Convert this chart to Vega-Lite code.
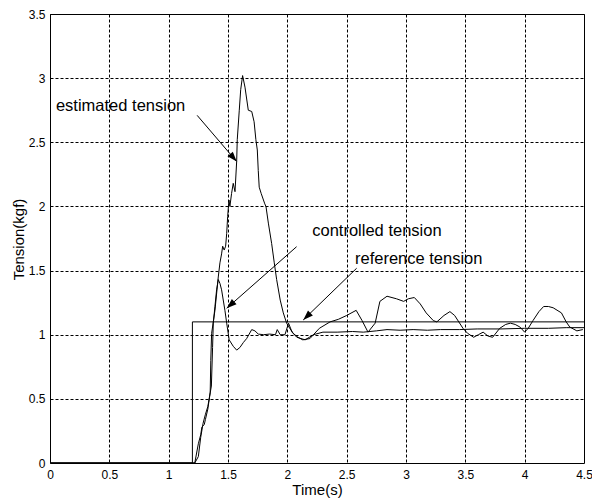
{
  "$schema": "https://vega.github.io/schema/vega-lite/v6.json",
  "width": 534,
  "height": 449,
  "autosize": "none",
  "padding": {"left": 50, "top": 14, "right": 8, "bottom": 35},
  "background": "white",
  "config": {
    "view": {"stroke": "black", "strokeWidth": 1},
    "axis": {
      "labelFont": "Liberation Sans", "labelFontSize": 12, "labelColor": "black",
      "titleFont": "Liberation Sans", "titleFontSize": 15, "titleFontWeight": "normal", "titleColor": "black",
      "grid": true, "gridColor": "black", "gridDash": [3, 2], "gridOpacity": 1, "gridWidth": 1,
      "ticks": false, "domain": false, "labelFlush": false
    }
  },
  "datasets": {
    "curves": [
      {"s": "reference", "t": 0, "v": 0}, {"s": "reference", "t": 1.2, "v": 0}, {"s": "reference", "t": 1.2, "v": 1.1}, {"s": "reference", "t": 4.5, "v": 1.1},
      {"s": "controlled", "t": 0, "v": 0}, {"s": "controlled", "t": 1.22, "v": 0}, {"s": "controlled", "t": 1.25, "v": 0.05}, {"s": "controlled", "t": 1.27, "v": 0.2}, {"s": "controlled", "t": 1.29, "v": 0.31}, {"s": "controlled", "t": 1.31, "v": 0.38}, {"s": "controlled", "t": 1.33, "v": 0.44}, {"s": "controlled", "t": 1.36, "v": 0.6}, {"s": "controlled", "t": 1.37, "v": 0.9}, {"s": "controlled", "t": 1.376, "v": 1.09}, {"s": "controlled", "t": 1.39, "v": 1.22}, {"s": "controlled", "t": 1.404, "v": 1.35}, {"s": "controlled", "t": 1.418, "v": 1.43}, {"s": "controlled", "t": 1.432, "v": 1.4}, {"s": "controlled", "t": 1.446, "v": 1.35}, {"s": "controlled", "t": 1.474, "v": 1.19}, {"s": "controlled", "t": 1.489, "v": 1.09}, {"s": "controlled", "t": 1.51, "v": 0.96}, {"s": "controlled", "t": 1.544, "v": 0.91}, {"s": "controlled", "t": 1.573, "v": 0.88}, {"s": "controlled", "t": 1.6, "v": 0.9}, {"s": "controlled", "t": 1.63, "v": 0.94}, {"s": "controlled", "t": 1.657, "v": 0.97}, {"s": "controlled", "t": 1.7, "v": 1.04}, {"s": "controlled", "t": 1.727, "v": 1.03}, {"s": "controlled", "t": 1.755, "v": 1.005}, {"s": "controlled", "t": 1.8, "v": 1.0}, {"s": "controlled", "t": 1.85, "v": 1.005}, {"s": "controlled", "t": 1.9, "v": 1.0}, {"s": "controlled", "t": 1.915, "v": 1.04}, {"s": "controlled", "t": 1.94, "v": 1.0}, {"s": "controlled", "t": 1.98, "v": 1.0}, {"s": "controlled", "t": 2.01, "v": 1.09}, {"s": "controlled", "t": 2.04, "v": 1.02}, {"s": "controlled", "t": 2.08, "v": 0.98}, {"s": "controlled", "t": 2.15, "v": 0.96}, {"s": "controlled", "t": 2.22, "v": 1.0}, {"s": "controlled", "t": 2.3, "v": 1.02}, {"s": "controlled", "t": 2.42, "v": 1.02}, {"s": "controlled", "t": 2.55, "v": 1.025}, {"s": "controlled", "t": 2.64, "v": 1.02}, {"s": "controlled", "t": 2.75, "v": 1.03}, {"s": "controlled", "t": 2.84, "v": 1.04}, {"s": "controlled", "t": 2.95, "v": 1.035}, {"s": "controlled", "t": 3.06, "v": 1.04}, {"s": "controlled", "t": 3.18, "v": 1.035}, {"s": "controlled", "t": 3.29, "v": 1.04}, {"s": "controlled", "t": 3.45, "v": 1.04}, {"s": "controlled", "t": 3.6, "v": 1.045}, {"s": "controlled", "t": 3.8, "v": 1.045}, {"s": "controlled", "t": 4.0, "v": 1.05}, {"s": "controlled", "t": 4.2, "v": 1.05}, {"s": "controlled", "t": 4.35, "v": 1.055}, {"s": "controlled", "t": 4.5, "v": 1.055},
      {"s": "estimated", "t": 0, "v": 0}, {"s": "estimated", "t": 1.22, "v": 0}, {"s": "estimated", "t": 1.25, "v": 0.15}, {"s": "estimated", "t": 1.27, "v": 0.22}, {"s": "estimated", "t": 1.28, "v": 0.28}, {"s": "estimated", "t": 1.3, "v": 0.3}, {"s": "estimated", "t": 1.31, "v": 0.34}, {"s": "estimated", "t": 1.33, "v": 0.42}, {"s": "estimated", "t": 1.35, "v": 0.55}, {"s": "estimated", "t": 1.355, "v": 0.8}, {"s": "estimated", "t": 1.362, "v": 1.01}, {"s": "estimated", "t": 1.39, "v": 1.19}, {"s": "estimated", "t": 1.418, "v": 1.45}, {"s": "estimated", "t": 1.432, "v": 1.56}, {"s": "estimated", "t": 1.446, "v": 1.63}, {"s": "estimated", "t": 1.455, "v": 1.69}, {"s": "estimated", "t": 1.468, "v": 1.66}, {"s": "estimated", "t": 1.48, "v": 1.69}, {"s": "estimated", "t": 1.489, "v": 1.79}, {"s": "estimated", "t": 1.497, "v": 1.92}, {"s": "estimated", "t": 1.508, "v": 2.05}, {"s": "estimated", "t": 1.516, "v": 2.0}, {"s": "estimated", "t": 1.53, "v": 2.1}, {"s": "estimated", "t": 1.544, "v": 2.18}, {"s": "estimated", "t": 1.559, "v": 2.115}, {"s": "estimated", "t": 1.573, "v": 2.35}, {"s": "estimated", "t": 1.578, "v": 2.52}, {"s": "estimated", "t": 1.595, "v": 2.75}, {"s": "estimated", "t": 1.607, "v": 2.91}, {"s": "estimated", "t": 1.623, "v": 3.02}, {"s": "estimated", "t": 1.643, "v": 2.93}, {"s": "estimated", "t": 1.671, "v": 2.75}, {"s": "estimated", "t": 1.7, "v": 2.74}, {"s": "estimated", "t": 1.72, "v": 2.66}, {"s": "estimated", "t": 1.735, "v": 2.52}, {"s": "estimated", "t": 1.747, "v": 2.44}, {"s": "estimated", "t": 1.755, "v": 2.28}, {"s": "estimated", "t": 1.763, "v": 2.15}, {"s": "estimated", "t": 1.78, "v": 2.1}, {"s": "estimated", "t": 1.81, "v": 2.02}, {"s": "estimated", "t": 1.82, "v": 2.0}, {"s": "estimated", "t": 1.84, "v": 1.87}, {"s": "estimated", "t": 1.868, "v": 1.71}, {"s": "estimated", "t": 1.89, "v": 1.56}, {"s": "estimated", "t": 1.91, "v": 1.43}, {"s": "estimated", "t": 1.94, "v": 1.27}, {"s": "estimated", "t": 1.966, "v": 1.17}, {"s": "estimated", "t": 1.994, "v": 1.09}, {"s": "estimated", "t": 2.02, "v": 1.05}, {"s": "estimated", "t": 2.05, "v": 1.01}, {"s": "estimated", "t": 2.09, "v": 0.98}, {"s": "estimated", "t": 2.13, "v": 0.96}, {"s": "estimated", "t": 2.19, "v": 0.97}, {"s": "estimated", "t": 2.27, "v": 1.05}, {"s": "estimated", "t": 2.36, "v": 1.1}, {"s": "estimated", "t": 2.43, "v": 1.12}, {"s": "estimated", "t": 2.5, "v": 1.15}, {"s": "estimated", "t": 2.58, "v": 1.19}, {"s": "estimated", "t": 2.63, "v": 1.11}, {"s": "estimated", "t": 2.68, "v": 1.02}, {"s": "estimated", "t": 2.74, "v": 1.09}, {"s": "estimated", "t": 2.78, "v": 1.26}, {"s": "estimated", "t": 2.84, "v": 1.3}, {"s": "estimated", "t": 2.92, "v": 1.28}, {"s": "estimated", "t": 2.98, "v": 1.26}, {"s": "estimated", "t": 3.02, "v": 1.28}, {"s": "estimated", "t": 3.07, "v": 1.29}, {"s": "estimated", "t": 3.12, "v": 1.24}, {"s": "estimated", "t": 3.17, "v": 1.17}, {"s": "estimated", "t": 3.23, "v": 1.11}, {"s": "estimated", "t": 3.26, "v": 1.1}, {"s": "estimated", "t": 3.32, "v": 1.15}, {"s": "estimated", "t": 3.37, "v": 1.18}, {"s": "estimated", "t": 3.41, "v": 1.15}, {"s": "estimated", "t": 3.48, "v": 1.05}, {"s": "estimated", "t": 3.52, "v": 1.01}, {"s": "estimated", "t": 3.57, "v": 0.98}, {"s": "estimated", "t": 3.61, "v": 1.0}, {"s": "estimated", "t": 3.65, "v": 1.02}, {"s": "estimated", "t": 3.69, "v": 0.99}, {"s": "estimated", "t": 3.73, "v": 0.98}, {"s": "estimated", "t": 3.79, "v": 1.05}, {"s": "estimated", "t": 3.84, "v": 1.08}, {"s": "estimated", "t": 3.88, "v": 1.09}, {"s": "estimated", "t": 3.92, "v": 1.08}, {"s": "estimated", "t": 3.96, "v": 1.06}, {"s": "estimated", "t": 4.0, "v": 1.02}, {"s": "estimated", "t": 4.03, "v": 1.05}, {"s": "estimated", "t": 4.07, "v": 1.11}, {"s": "estimated", "t": 4.12, "v": 1.18}, {"s": "estimated", "t": 4.16, "v": 1.22}, {"s": "estimated", "t": 4.2, "v": 1.22}, {"s": "estimated", "t": 4.24, "v": 1.21}, {"s": "estimated", "t": 4.31, "v": 1.17}, {"s": "estimated", "t": 4.35, "v": 1.1}, {"s": "estimated", "t": 4.38, "v": 1.06}, {"s": "estimated", "t": 4.44, "v": 1.03}, {"s": "estimated", "t": 4.49, "v": 1.04}
    ],
    "arrows": [
      {"name": "estimated", "t": 1.24, "v": 2.71, "t2": 1.573, "v2": 2.35},
      {"name": "controlled", "t": 2.078, "v": 1.686, "t2": 1.489, "v2": 1.206},
      {"name": "reference", "t": 2.584, "v": 1.518, "t2": 2.134, "v2": 1.115}
    ],
    "labels": [
      {"label": "estimated tension", "t": 0.05, "v": 2.78},
      {"label": "controlled tension", "t": 2.21, "v": 1.81},
      {"label": "reference tension", "t": 2.57, "v": 1.59}
    ]
  },
  "layer": [
    {
      "data": {"name": "curves"},
      "mark": {"type": "line", "color": "black", "strokeWidth": 1, "clip": true},
      "encoding": {
        "x": {"field": "t", "type": "quantitative", "scale": {"domain": [0, 4.5], "nice": false},
              "axis": {"values": [0, 0.5, 1, 1.5, 2, 2.5, 3, 3.5, 4, 4.5], "format": "~g", "title": "Time(s)", "labelPadding": 6, "titleX": 267, "titleY": 19}},
        "y": {"field": "v", "type": "quantitative", "scale": {"domain": [0, 3.5], "nice": false},
              "axis": {"values": [0, 0.5, 1, 1.5, 2, 2.5, 3, 3.5], "format": "~g", "title": "Tension(kgf)", "labelPadding": 5, "titleX": -24, "titleY": 225}},
        "detail": {"field": "s"},
        "order": {"value": null}
      }
    },
    {
      "data": {"name": "arrows"},
      "mark": {"type": "rule", "color": "black", "strokeWidth": 1},
      "encoding": {
        "x": {"field": "t", "type": "quantitative"},
        "y": {"field": "v", "type": "quantitative"},
        "x2": {"field": "t2"},
        "y2": {"field": "v2"}
      }
    },
    {
      "data": {"name": "arrows"},
      "transform": [{"filter": "datum.name === 'estimated'"}],
      "mark": {"type": "point", "shape": "M0,0L-0.35,1L0.35,1Z", "filled": true, "color": "black", "size": 400, "angle": 139.6, "opacity": 1},
      "encoding": {"x": {"field": "t2", "type": "quantitative"}, "y": {"field": "v2", "type": "quantitative"}}
    },
    {
      "data": {"name": "arrows"},
      "transform": [{"filter": "datum.name === 'controlled'"}],
      "mark": {"type": "point", "shape": "M0,0L-0.35,1L0.35,1Z", "filled": true, "color": "black", "size": 400, "angle": 228.7, "opacity": 1},
      "encoding": {"x": {"field": "t2", "type": "quantitative"}, "y": {"field": "v2", "type": "quantitative"}}
    },
    {
      "data": {"name": "arrows"},
      "transform": [{"filter": "datum.name === 'reference'"}],
      "mark": {"type": "point", "shape": "M0,0L-0.35,1L0.35,1Z", "filled": true, "color": "black", "size": 400, "angle": 226, "opacity": 1},
      "encoding": {"x": {"field": "t2", "type": "quantitative"}, "y": {"field": "v2", "type": "quantitative"}}
    },
    {
      "data": {"name": "labels"},
      "mark": {"type": "text", "align": "left", "baseline": "middle", "font": "Liberation Sans", "fontSize": 16.5, "color": "black"},
      "encoding": {
        "x": {"field": "t", "type": "quantitative"},
        "y": {"field": "v", "type": "quantitative"},
        "text": {"field": "label"}
      }
    }
  ]
}
